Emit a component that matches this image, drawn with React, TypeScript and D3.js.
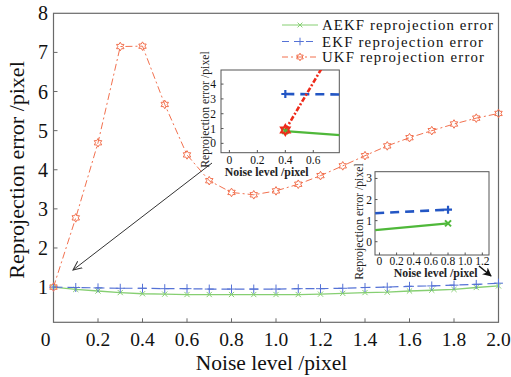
import React from 'react';
import * as d3 from 'd3';

const noiseLevels = [0, 0.1, 0.2, 0.3, 0.4, 0.5, 0.6, 0.7, 0.8, 0.9, 1.0, 1.1, 1.2, 1.3, 1.4, 1.5, 1.6, 1.7, 1.8, 1.9, 2.0];
const aekfError = [1.0, 0.94, 0.9, 0.86, 0.83, 0.82, 0.81, 0.81, 0.81, 0.81, 0.81, 0.81, 0.82, 0.84, 0.86, 0.87, 0.9, 0.92, 0.94, 0.99, 1.03];
const ekfError = [1.0, 0.99, 0.98, 0.97, 0.97, 0.96, 0.96, 0.95, 0.95, 0.95, 0.95, 0.96, 0.96, 0.97, 0.99, 1.0, 1.02, 1.03, 1.05, 1.07, 1.1];
const ukfError = [1.0, 2.77, 4.69, 7.15, 7.16, 5.67, 4.38, 3.72, 3.42, 3.36, 3.46, 3.63, 3.85, 4.1, 4.36, 4.61, 4.82, 5.0, 5.17, 5.32, 5.44];
const xTickValues = [0, 0.2, 0.4, 0.6, 0.8, 1.0, 1.2, 1.4, 1.6, 1.8, 2.0];
const xTickLabels = ['0', '0.2', '0.4', '0.6', '0.8', '1.0', '1.2', '1.4', '1.6', '1.8', '2.0'];
const yTickValues = [1, 2, 3, 4, 5, 6, 7, 8];
const seriesNames = ['AEKF reprojection error', 'EKF reprojection error', 'UKF reprojection error'];

// inset 1 (zoom near noise 0.4)
const inset1X = [0.4, 0.8];
const inset1Aekf = [0.83, 0.55];
const inset1Ekf = [3.33, 3.3];
const inset1UkfX = [0.4, 0.7];
const inset1Ukf = [0.9, 5.7];
const inset1XTicks = [0, 0.2, 0.4, 0.6];
const inset1YTicks = [0, 1, 2, 3, 4];
// inset 2 (zoom near noise 0.8)
const inset2X = [-0.05, 0.8];
const inset2Aekf = [0.55, 0.87];
const inset2Ekf = [1.35, 1.52];
const inset2XTicks = [0, 0.2, 0.4, 0.6, 0.8, 1.0, 1.2];
const inset2XLabels = ['0', '0.2', '0.4', '0.6', '0.8', '1.0', '1.2'];
const inset2YTicks = [0, 1, 2, 3];

const FONT = '"Liberation Serif", "Times New Roman", serif';
const GREEN = '#86cf72';
const BLUE = '#5572d6';
const RED = '#f2714f';
const GREEN2 = '#4fb83a';
const BLUE2 = '#2356c4';
const RED2 = '#ee2a1a';

function hexagramPath(cx: number, cy: number, r: number) {
  const pts: [number, number][] = [];
  for (let k = 0; k < 12; k++) {
    const a = (-90 + 30 * k) * Math.PI / 180;
    const rr = k % 2 === 0 ? r : r / Math.sqrt(3);
    pts.push([cx + rr * Math.cos(a), cy + rr * Math.sin(a)]);
  }
  return 'M' + pts.map(p => p.join(',')).join('L') + 'Z';
}

function Marker({ type, x, y, color, r, sw }: { type: string; x: number; y: number; color: string; r: number; sw: number }) {
  if (type === 'x') {
    return (
      <g stroke={color} strokeWidth={sw}>
        <line x1={x - r} y1={y - r} x2={x + r} y2={y + r} />
        <line x1={x - r} y1={y + r} x2={x + r} y2={y - r} />
      </g>
    );
  }
  if (type === '+') {
    return (
      <g stroke={color} strokeWidth={sw}>
        <line x1={x - r} y1={y} x2={x + r} y2={y} />
        <line x1={x} y1={y - r} x2={x} y2={y + r} />
      </g>
    );
  }
  return <path d={hexagramPath(x, y, r)} fill="none" stroke={color} strokeWidth={sw} />;
}

export default function App() {
  const x = d3.scaleLinear().domain([0, 2]).range([53.5, 498.5]);
  const y = d3.scaleLinear().domain([0.1, 8]).range([322.3, 13.3]);
  const line = d3.line<number>().x((_, i) => x(noiseLevels[i])).y(d => y(d));

  const i1x = d3.scaleLinear().domain([-0.06, 0.786]).range([221, 339.3]);
  const i1y = d3.scaleLinear().domain([-0.63, 4.95]).range([152.7, 70]);
  const i2x = d3.scaleLinear().domain([-0.052, 1.278]).range([375, 489]);
  const i2y = d3.scaleLinear().domain([-0.63, 3.32]).range([255, 171.7]);

  const pl = (xs: number[], ys: number[], sx: any, sy: any) =>
    d3.line<number>().x((_, i) => sx(xs[i])).y(d => sy(d))(ys) || '';

  const [x0, x1] = x.range();
  const [y0, y1] = y.range();

  return (
    <svg width={511} height={377} style={{ position: 'absolute', left: 0, top: 0, background: '#fff' }} fontFamily={FONT}>
      <defs>
        <clipPath id="c1"><rect x={221} y={70} width={118.3} height={82.7} /></clipPath>
        <clipPath id="c2"><rect x={375} y={171.7} width={114} height={83.3} /></clipPath>
        <marker id="arrowOpen" viewBox="0 0 10 10" refX="9" refY="5" markerWidth="10" markerHeight="10" orient="auto" markerUnits="userSpaceOnUse">
          <path d="M0,1 L9,5 L0,9" fill="none" stroke="#333" strokeWidth={1} />
        </marker>
        <marker id="arrowFill" viewBox="0 0 10 10" refX="9" refY="5" markerWidth="9" markerHeight="9" orient="auto" markerUnits="userSpaceOnUse">
          <path d="M0,0 L10,5 L0,10 L3,5 Z" fill="#111" />
        </marker>
      </defs>

      {/* main frame */}
      <rect x={x0} y={y1} width={x1 - x0} height={y0 - y1} fill="none" stroke="#6a6a6a" strokeWidth={1.2} />
      {xTickValues.map((v, i) => (
        <g key={'xt' + i}>
          {i > 0 && i < xTickValues.length - 1 && <line x1={x(v)} x2={x(v)} y1={y0} y2={y0 - 4} stroke="#6a6a6a" />}
          <text x={x(v) + (i === 0 ? -8 : 0)} y={345.5} fontSize={19.5} textAnchor="middle" fill="#111">{xTickLabels[i]}</text>
        </g>
      ))}
      {yTickValues.map((v, i) => (
        <g key={'yt' + i}>
          {i < yTickValues.length - 1 && <line x1={x0} x2={x0 + 4} y1={y(v)} y2={y(v)} stroke="#6a6a6a" />}
          <text x={48} y={y(v) + 7} fontSize={20} textAnchor="end" fill="#111">{v}</text>
        </g>
      ))}
      <text x={271.5} y={369.5} fontSize={21.5} textAnchor="middle" fill="#111">Noise level /pixel</text>
      <text transform="translate(24,170) rotate(-90)" fontSize={22} textAnchor="middle" fill="#111">Reprojection error /pixel</text>

      {/* main series */}
      <path d={line(aekfError) || ''} fill="none" stroke={GREEN} strokeWidth={1.3} />
      <path d={line(ekfError) || ''} fill="none" stroke={BLUE} strokeWidth={1.2} strokeDasharray="9,5" />
      <path d={line(ukfError) || ''} fill="none" stroke={RED} strokeWidth={1} strokeDasharray="7,3,2,3" />
      {aekfError.map((v, i) => <Marker key={'a' + i} type="x" x={x(noiseLevels[i])} y={y(v)} color={GREEN} r={2.6} sw={1} />)}
      {ekfError.map((v, i) => <Marker key={'e' + i} type="+" x={x(noiseLevels[i])} y={y(v)} color={BLUE} r={4.5} sw={1} />)}
      {ukfError.map((v, i) => <Marker key={'u' + i} type="h" x={x(noiseLevels[i])} y={y(v)} color={RED} r={4.3} sw={1} />)}

      {/* legend */}
      {seriesNames.map((name, i) => {
        const ly = [25, 41.5, 57][i];
        const col = [GREEN, BLUE, RED][i];
        const dash = [undefined, '7,5', '6,3,2,3'][i];
        const mt = ['x', '+', 'h'][i];
        const tl = [171, 161, 162][i];
        return (
          <g key={'lg' + i}>
            <line x1={282} x2={318} y1={ly} y2={ly} stroke={col} strokeWidth={1} strokeDasharray={dash} />
            <Marker type={mt} x={300} y={ly} color={col} r={mt === 'x' ? 2.4 : 3.8} sw={1} />
            <text x={322} y={ly + 5} fontSize={14.8} textLength={tl} lengthAdjust="spacing" fill="#111">{name}</text>
          </g>
        );
      })}

      {/* arrows */}
      <line x1={212} y1={163} x2={73} y2={270} stroke="#333" strokeWidth={1} markerEnd="url(#arrowOpen)" />
      <line x1={479} y1={266} x2={491} y2={276} stroke="#111" strokeWidth={1.5} markerEnd="url(#arrowFill)" />

      {/* inset 1 */}
      <rect x={221} y={70} width={118.3} height={82.7} fill="#fff" stroke="#555" strokeWidth={1} />
      <g clipPath="url(#c1)">
        <path d={pl(inset1X, inset1Aekf, i1x, i1y)} fill="none" stroke={GREEN2} strokeWidth={2.2} />
        <path d={pl(inset1X, inset1Ekf, i1x, i1y)} fill="none" stroke={BLUE2} strokeWidth={2.6} strokeDasharray="9,6" />
        <path d={pl(inset1UkfX, inset1Ukf, i1x, i1y)} fill="none" stroke={RED2} strokeWidth={2.6} strokeDasharray="5,2,2,2" />
        <Marker type="x" x={i1x(inset1X[0])} y={i1y(inset1Aekf[0])} color={GREEN2} r={3} sw={2} />
        <Marker type="+" x={i1x(inset1X[0])} y={i1y(inset1Ekf[0])} color={BLUE2} r={4} sw={2.2} />
        <Marker type="h" x={i1x(inset1UkfX[0])} y={i1y(inset1Ukf[0])} color={RED2} r={5} sw={2} />
      </g>
      {inset1XTicks.map((v, i) => (
        <g key={'i1x' + i}>
          <line x1={i1x(v)} x2={i1x(v)} y1={152.7} y2={150} stroke="#555" />
          <text x={i1x(v)} y={164} fontSize={11.5} textAnchor="middle" fill="#111">{v}</text>
        </g>
      ))}
      {inset1YTicks.map((v, i) => (
        <g key={'i1y' + i}>
          <line x1={221} x2={223.5} y1={i1y(v)} y2={i1y(v)} stroke="#555" />
          <text x={216} y={i1y(v) + 4} fontSize={11.5} textAnchor="end" fill="#111">{v}</text>
        </g>
      ))}
      <text x={266.7} y={176} fontSize={11.8} fontWeight="bold" textAnchor="middle" fill="#222">Noise level /pixel</text>
      <text transform="translate(209,109.5) rotate(-90)" fontSize={11.8} textAnchor="middle" fill="#222">Reprojection error /pixel</text>

      {/* inset 2 */}
      <rect x={375} y={171.7} width={114} height={83.3} fill="#fff" stroke="#555" strokeWidth={1} />
      <g clipPath="url(#c2)">
        <path d={pl(inset2X, inset2Aekf, i2x, i2y)} fill="none" stroke={GREEN2} strokeWidth={2.2} />
        <path d={pl(inset2X, inset2Ekf, i2x, i2y)} fill="none" stroke={BLUE2} strokeWidth={2.6} strokeDasharray="9,6" />
        <Marker type="x" x={i2x(inset2X[1])} y={i2y(inset2Aekf[1])} color={GREEN2} r={3} sw={2} />
        <Marker type="+" x={i2x(inset2X[1])} y={i2y(inset2Ekf[1])} color={BLUE2} r={4} sw={2.2} />
      </g>
      {inset2XTicks.map((v, i) => (
        <g key={'i2x' + i}>
          <line x1={i2x(v)} x2={i2x(v)} y1={255} y2={252.5} stroke="#555" />
          <text x={i2x(v)} y={265} fontSize={11.5} textAnchor="middle" fill="#111">{inset2XLabels[i]}</text>
        </g>
      ))}
      {inset2YTicks.map((v, i) => (
        <g key={'i2y' + i}>
          <line x1={375} x2={377.5} y1={i2y(v)} y2={i2y(v)} stroke="#555" />
          <text x={372} y={i2y(v) + 4} fontSize={11.5} textAnchor="end" fill="#111">{v}</text>
        </g>
      ))}
      <text x={435.7} y={276.5} fontSize={11.8} fontWeight="bold" textAnchor="middle" fill="#222">Noise level /pixel</text>
      <text transform="translate(363,221.5) rotate(-90)" fontSize={11.8} textAnchor="middle" fill="#222">Reprojection error /pixel</text>
    </svg>
  );
}
